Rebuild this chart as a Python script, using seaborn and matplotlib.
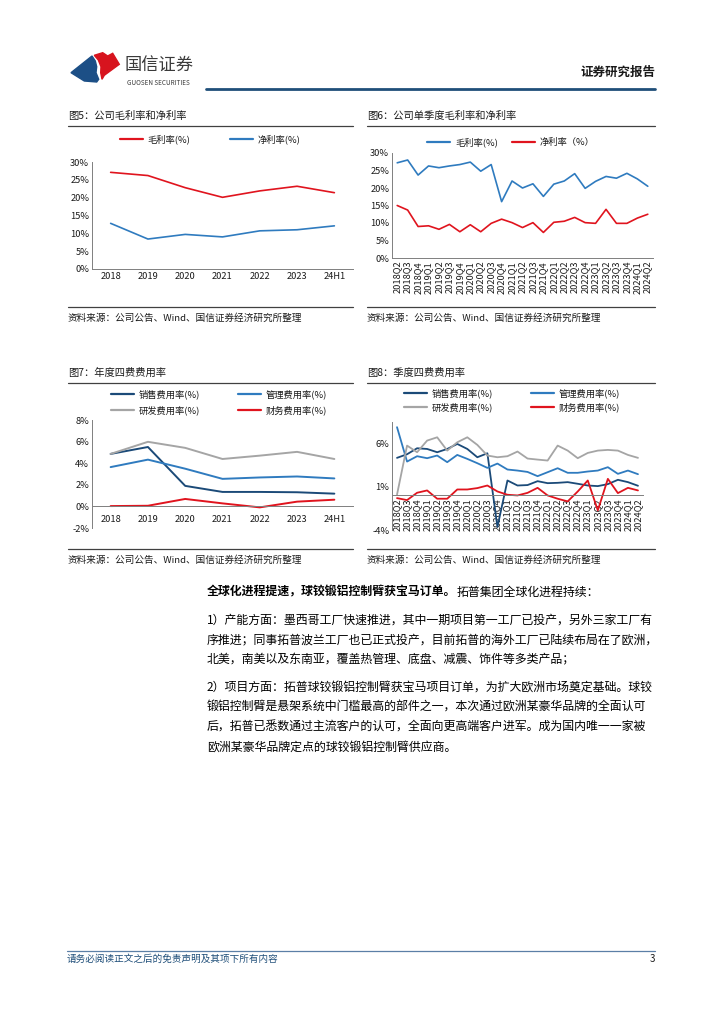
import numpy as np
import pandas as pd
import matplotlib
matplotlib.use("Agg")
import matplotlib.pyplot as plt
import seaborn as sns
from matplotlib.lines import Line2D
from matplotlib.patches import Polygon
from matplotlib.ticker import FuncFormatter

# ---- data ----
years = ["2018", "2019", "2020", "2021", "2022", "2023", "24H1"]
gross_year = [27.1, 26.2, 22.8, 20.1, 21.9, 23.2, 21.4]
net_year = [12.8, 8.4, 9.7, 9.0, 10.7, 11.0, 12.1]

quarters = ["2018Q2", "2018Q3", "2018Q4",
            "2019Q1", "2019Q2", "2019Q3", "2019Q4",
            "2020Q1", "2020Q2", "2020Q3", "2020Q4",
            "2021Q1", "2021Q2", "2021Q3", "2021Q4",
            "2022Q1", "2022Q2", "2022Q3", "2022Q4",
            "2023Q1", "2023Q2", "2023Q3", "2023Q4",
            "2024Q1", "2024Q2"]
gross_q = [27.2, 28.0, 23.7, 26.3, 25.8, 26.3, 26.7, 27.4, 24.8, 26.7, 16.1, 22.0, 20.0,
           21.2, 17.6, 21.1, 22.0, 24.1, 19.9, 21.9, 23.3, 22.8, 24.2, 22.6, 20.5]
net_q = [15.0, 13.7, 9.0, 9.2, 8.2, 9.6, 7.5, 9.5, 7.5, 9.9, 11.1, 10.1, 8.7,
         10.1, 7.3, 10.2, 10.5, 11.6, 10.1, 9.9, 13.9, 9.9, 9.9, 11.4, 12.5]

sales_y = [4.86, 5.5, 1.9, 1.34, 1.34, 1.31, 1.18]
mgmt_y = [3.64, 4.33, 3.49, 2.55, 2.68, 2.77, 2.59]
rd_y = [4.86, 5.98, 5.42, 4.39, 4.70, 5.05, 4.39]
fin_y = [0.03, 0.06, 0.69, 0.28, -0.09, 0.44, 0.62]

sales_q = [4.35, 4.77, 5.46, 5.38, 5.0, 5.38, 5.96, 5.38, 4.42, 4.88, -3.65, 1.73, 1.15,
           1.2, 1.65, 1.42, 1.46, 1.54, 1.35, 1.15, 1.08, 1.31, 1.81, 1.54, 1.12]
mgmt_q = [7.9, 3.92, 4.54, 4.31, 4.62, 3.85, 4.69, 4.23, 3.73, 3.19, 3.69, 3.0, 2.88,
          2.72, 2.23, 2.69, 3.15, 2.62, 2.62, 2.77, 2.88, 3.27, 2.5, 2.88, 2.46]
rd_q = [0.1, 5.77, 5.0, 6.35, 6.73, 5.19, 6.15, 6.73, 5.85, 4.62, 4.42, 4.54, 5.08,
        4.27, 4.15, 4.04, 5.77, 5.19, 4.31, 4.92, 5.19, 5.27, 5.19, 4.69, 4.35]
fin_q = [-0.31, -0.54, 0.31, 0.58, -0.38, -0.38, 0.69, 0.69, 0.85, 1.15, 0.46, 0.08, 0.0,
         0.3, 0.88, 0.0, -0.38, -0.69, 0.46, 1.73, -1.73, 1.92, 0.27, 0.88, 0.58]

RED = "#e0141e"
BLUE = "#2f7bbf"
NAVY = "#1b4a78"
GRAY = "#a5a5a5"
TXT = "#1a1a1a"

sns.set_style("white")
plt.rcParams["font.family"] = ["Noto Sans CJK SC", "DejaVu Sans"]
plt.rcParams["axes.unicode_minus"] = False

W, H = 724, 1024
fig = plt.figure(figsize=(W / 100, H / 100), dpi=100)


def fx(x):
    return x / W


def fy(y):
    return 1 - y / H


def hline(x0, x1, y, color, lw):
    fig.add_artist(Line2D([fx(x0), fx(x1)], [fy(y), fy(y)], color=color, lw=lw,
                          transform=fig.transFigure))


def make_axes(l, r, t, b):
    return fig.add_axes([fx(l), fy(b), fx(r) - fx(l), fy(t) - fy(b)])


def draw(ax, periods, series, colors, lw=1.2):
    df = pd.DataFrame({"period": periods, **series}).melt(
        id_vars="period", var_name="series", value_name="value")
    sns.lineplot(data=df, x="period", y="value", hue="series", palette=colors,
                 sort=False, legend=False, linewidth=lw, ax=ax)
    n = len(periods)
    ax.set_xlim(-0.5, n - 0.5)
    ax.set_xlabel("")
    ax.set_ylabel("")
    for s in ["top", "right"]:
        ax.spines[s].set_visible(False)
    for s in ["left", "bottom"]:
        ax.spines[s].set_color("#7f7f7f")
        ax.spines[s].set_linewidth(0.7)
    ax.set_xticks(np.arange(-0.5, n), minor=True)
    ax.tick_params(axis="both", which="major", length=0, labelsize=6.7, colors=TXT, pad=2)
    ax.tick_params(axis="x", which="minor", length=2.5, width=0.6, color="#7f7f7f")
    ax.yaxis.set_major_formatter(FuncFormatter(lambda v, p: f"{v:.0f}%"))
    ax.patch.set_alpha(0)


def legend(ax, labels, colors, cx, cy, colsp, rowsp=0.5, order=None):
    handles = [Line2D([], [], color=c, lw=1.6) for c in colors]
    if order is not None:
        handles = [handles[i] for i in order]
        labels = [labels[i] for i in order]
    ax.legend(handles, labels, ncol=2, loc="center", bbox_to_anchor=(fx(cx), fy(cy)),
              bbox_transform=fig.transFigure, frameon=False, fontsize=6.7,
              handlelength=2.5, handletextpad=0.5, columnspacing=colsp,
              labelspacing=rowsp, borderpad=0, labelcolor=TXT)


def chart_frame(x0, x1, title, ytitle, yline, ysrc_line, ysrc):
    fig.text(fx(x0), fy(ytitle), title, fontsize=7.4, color=TXT, va="center")
    hline(x0, x1, yline, "#404040", 0.9)
    hline(x0, x1, ysrc_line, "#404040", 0.9)
    fig.text(fx(x0), fy(ysrc), "资料来源：公司公告、Wind、国信证券经济研究所整理",
             fontsize=6.9, color=TXT, va="center")


# ---- header ----
blue_logo = [(71, 72.7), (92, 56), (95.3, 61), (96.7, 66.7), (96, 72.7), (98.7, 79.3),
             (96.7, 82), (84.3, 81)]
red_logo = [(94.3, 55.3), (102.7, 52.7), (107.7, 56), (112.7, 53.3), (119.3, 64.3),
            (104.3, 75.3), (102, 79.3), (100.7, 72.7), (101, 66.7), (98.3, 60)]
fig.add_artist(Polygon([(fx(x), fy(y)) for x, y in blue_logo], closed=True,
                       color="#1c4f86", transform=fig.transFigure))
fig.add_artist(Polygon([(fx(x), fy(y)) for x, y in red_logo], closed=True,
                       color="#d7141e", transform=fig.transFigure))
fig.text(fx(125), fy(66), "国信证券", fontsize=12.4, color="#3a3a3a", va="center")
fig.text(fx(127), fy(83), "GUOSEN SECURITIES", fontsize=4.6, color="#3a3a3a", va="center")
fig.text(fx(655), fy(72), "证券研究报告", fontsize=9, fontweight="bold", color=TXT,
         ha="right", va="center")
hline(206, 655, 88.5, "#1f4e79", 2.0)

# ---- figure 5 ----
chart_frame(68, 353, "图5：公司毛利率和净利率", 116, 126, 307, 318)
ax5 = make_axes(92, 353, 162, 269)
draw(ax5, years, {"毛利率(%)": gross_year, "净利率(%)": net_year}, [RED, BLUE])
ax5.set_ylim(0, 30)
ax5.set_yticks(range(0, 31, 5))
legend(ax5, ["毛利率(%)", "净利率(%)"], [RED, BLUE], 210, 139, 4.2)

# ---- figure 6 ----
chart_frame(367, 655, "图6：公司单季度毛利率和净利率", 116, 126, 307, 318)
ax6 = make_axes(392, 653, 153, 258)
draw(ax6, quarters, {"毛利率(%)": gross_q, "净利率（%）": net_q}, [BLUE, RED])
ax6.set_ylim(0, 30)
ax6.set_yticks(range(0, 31, 5))
plt.setp(ax6.get_xticklabels(), rotation=90)
legend(ax6, ["毛利率(%)", "净利率（%）"], [BLUE, RED], 511, 142, 1.5)

# ---- figure 7 ----
fee_labels = ["销售费用率(%)", "管理费用率(%)", "研发费用率(%)", "财务费用率(%)"]
fee_colors = [NAVY, BLUE, GRAY, RED]
chart_frame(68, 353, "图7：年度四费费用率", 373, 383, 549, 560)
ax7 = make_axes(92, 353, 420, 528)
draw(ax7, years, dict(zip(fee_labels, [sales_y, mgmt_y, rd_y, fin_y])), fee_colors, lw=1.4)
ax7.set_ylim(-2, 8)
ax7.set_yticks(range(-2, 9, 2))
ax7.spines["bottom"].set_position(("data", 0))
ax7.tick_params(axis="x", which="major", pad=6)
legend(ax7, fee_labels, fee_colors, 219, 402.5, 4.0, 0.6, order=[0, 2, 1, 3])

# ---- figure 8 ----
chart_frame(367, 655, "图8：季度四费费用率", 373, 383, 549, 560)
ax8 = make_axes(392, 643, 422, 530)
draw(ax8, quarters, dict(zip(fee_labels, [sales_q, mgmt_q, rd_q, fin_q])), fee_colors, lw=1.3)
ax8.set_ylim(-4, 8.5)
ax8.set_yticks([-4, 1, 6])
ax8.spines["bottom"].set_position(("data", 0))
plt.setp(ax8.get_xticklabels(), rotation=90)
legend(ax8, fee_labels, fee_colors, 512, 400, 4.0, 0.45, order=[0, 2, 1, 3])

# ---- body text ----
BODY = 8.6
tax = fig.add_axes([0, 0, 1, 1])
tax.axis("off")
t1 = tax.text(fx(207), fy(592), "全球化进程提速，球铰锻铝控制臂获宝马订单。", fontsize=BODY,
              fontweight="bold", color="black", va="center", transform=fig.transFigure)
tax.annotate("拓普集团全球化进程持续：", xy=(1, 0.5), xycoords=t1, va="center", ha="left",
             fontsize=BODY, color="black")

para1 = ["1）产能方面：墨西哥工厂快速推进，其中一期项目第一工厂已投产，另外三家工厂有",
         "序推进；同事拓普波兰工厂也已正式投产，目前拓普的海外工厂已陆续布局在了欧洲，",
         "北美，南美以及东南亚，覆盖热管理、底盘、减震、饰件等多类产品；"]
para2 = ["2）项目方面：拓普球铰锻铝控制臂获宝马项目订单，为扩大欧洲市场奠定基础。球铰",
         "锻铝控制臂是悬架系统中门槛最高的部件之一，本次通过欧洲某豪华品牌的全面认可",
         "后，拓普已悉数通过主流客户的认可，全面向更高端客户进军。成为国内唯一一家被",
         "欧洲某豪华品牌定点的球铰锻铝控制臂供应商。"]
for i, line in enumerate(para1):
    fig.text(fx(207), fy(620 + 20 * i), line, fontsize=BODY, color="black", va="center")
for i, line in enumerate(para2):
    fig.text(fx(207), fy(687 + 20 * i), line, fontsize=BODY, color="black", va="center")

# ---- footer ----
hline(67, 655, 951, "#5b7fa6", 0.9)
fig.text(fx(67), fy(959), "请务必阅读正文之后的免责声明及其项下所有内容", fontsize=6.9,
         color="#1f4e79", style="italic", va="center")
fig.text(fx(655), fy(959), "3", fontsize=7, color=TXT, ha="right", va="center")

fig.savefig("out.png", dpi=100)
